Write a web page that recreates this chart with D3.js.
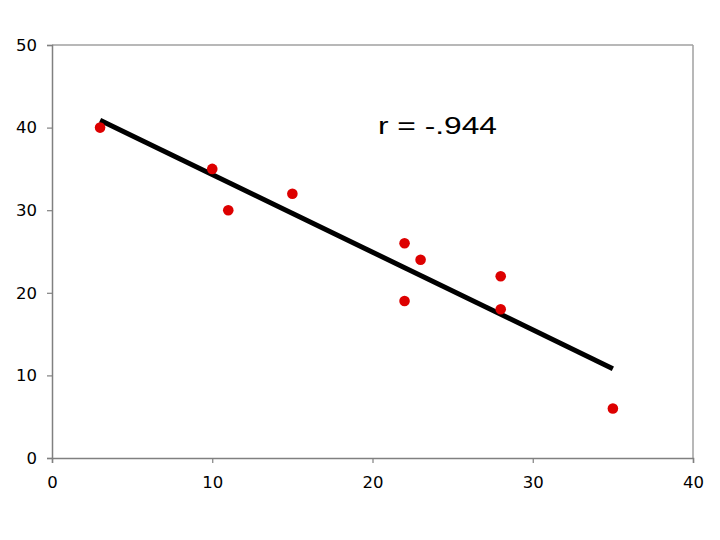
<!DOCTYPE html>
<html>
<head>
<meta charset="utf-8">
<script src="https://cdn.jsdelivr.net/npm/d3@7"></script>
<style>
  body { margin: 0; background: #fff; }
  svg text { font-family: "DejaVu Sans", Verdana, sans-serif; }
</style>
</head>
<body>
<script>
// data
var xValues = [3, 10, 11, 15, 22, 22, 23, 28, 28, 35];
var yValues = [40, 35, 30, 32, 26, 19, 24, 22, 18, 6];
var xTicks = [0, 10, 20, 30, 40];
var yTicks = [0, 10, 20, 30, 40, 50];
var label = "r = -.944";

var width = 720, height = 540;
var margin = { left: 52, right: 27, top: 45, bottom: 82 };

var svg = d3.select("body")
  .append("svg")
  .attr("width", width)
  .attr("height", height);

var x = d3.scaleLinear().domain([0, 40]).range([margin.left, width - margin.right]);
var y = d3.scaleLinear().domain([0, 50]).range([height - margin.bottom, margin.top]);

// frame - top/right lighter
svg.append("line")
  .attr("x1", x(0)).attr("x2", x(40)).attr("y1", y(50)).attr("y2", y(50))
  .style("stroke", "#a0a0a0").style("stroke-width", 1.5);
svg.append("line")
  .attr("x1", x(40)).attr("x2", x(40)).attr("y1", y(50)).attr("y2", y(0))
  .style("stroke", "#a0a0a0").style("stroke-width", 1.5);

var yAxis = svg.append("g")
  .attr("transform", "translate(" + x(0) + ",0)")
  .call(d3.axisLeft(y).tickValues(yTicks).tickSize(5).tickPadding(10));

var xAxis = svg.append("g")
  .attr("transform", "translate(0," + y(0) + ")")
  .call(d3.axisBottom(x).tickValues(xTicks).tickSize(5).tickPadding(13));

[yAxis, xAxis].forEach(function (g) {
  g.select(".domain").style("stroke", "#808080").style("stroke-width", 1.5);
  g.selectAll(".tick line").style("stroke", "#808080").style("stroke-width", 1.2);
  g.selectAll(".tick text")
    .style("font-family", "'DejaVu Sans', Verdana, sans-serif")
    .style("font-size", "16.5px")
    .style("fill", "#000");
});

// least squares line
var mx = d3.mean(xValues), my = d3.mean(yValues);
var sxy = d3.sum(xValues, function (v, i) { return (v - mx) * (yValues[i] - my); });
var sxx = d3.sum(xValues, function (v) { return (v - mx) * (v - mx); });
var slope = sxy / sxx, intercept = my - slope * mx;
var lineEnds = d3.extent(xValues);

svg.append("line")
  .attr("x1", x(lineEnds[0])).attr("y1", y(intercept + slope * lineEnds[0]))
  .attr("x2", x(lineEnds[1])).attr("y2", y(intercept + slope * lineEnds[1]))
  .style("stroke", "#000")
  .style("stroke-width", 5);

svg.selectAll("circle.pt")
  .data(xValues)
  .enter()
  .append("circle")
  .attr("class", "pt")
  .attr("cx", function (d) { return x(d); })
  .attr("cy", function (d, i) { return y(yValues[i]); })
  .attr("r", 5.3)
  .style("fill", "#dd0000");

// stretched text, like the original
svg.append("text")
  .attr("x", 378)
  .attr("y", 134)
  .attr("textLength", 119)
  .attr("lengthAdjust", "spacingAndGlyphs")
  .style("font-family", "'Liberation Sans', Arial, sans-serif")
  .style("font-size", "24px")
  .style("fill", "#000")
  .text(label);
</script>
</body>
</html>
